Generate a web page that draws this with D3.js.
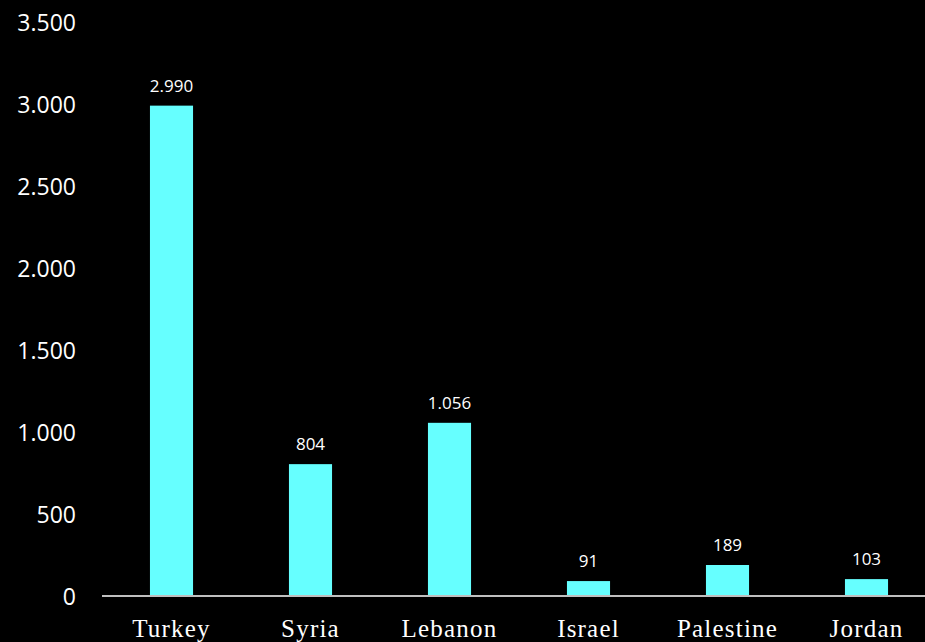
<!DOCTYPE html>
<html>
<head>
<meta charset="utf-8">
<script src="https://cdn.jsdelivr.net/npm/d3@7/dist/d3.min.js"></script>
<style>
  html, body { margin: 0; padding: 0; background: #000; }
  svg { display: block; }
</style>
</head>
<body>
<svg id="chart" width="925" height="642"></svg>
<script>
// Countries and values
const countries = ["Turkey", "Syria", "Lebanon", "Israel", "Palestine", "Jordan"];
const values = [2990, 804, 1056, 91, 189, 103];
const yTicks = [0, 500, 1000, 1500, 2000, 2500, 3000, 3500];

const width = 925, height = 642;
const margin = { left: 102, right: -11, top: 22, bottom: 46 };

const svg = d3.select("#chart");
svg.append("rect").attr("width", width).attr("height", height).attr("fill", "#000");

// European number format: dot as thousands separator
const locale = d3.formatLocale({ decimal: ",", thousands: ".", grouping: [3], currency: ["", "€"] });
const fmt = locale.format(",d");

const x = d3.scaleBand()
  .domain(countries)
  .range([margin.left, width - margin.right])
  .paddingInner(0.69)
  .paddingOuter(0.345);

const y = d3.scaleLinear()
  .domain([0, 3500])
  .range([height - margin.bottom, margin.top]);

// Y axis labels (no axis line)
const yAxis = d3.axisLeft(y).tickValues(yTicks).tickFormat(fmt).tickSize(0).tickPadding(0);
const yg = svg.append("g").attr("transform", "translate(76,0)").call(yAxis);
yg.select(".domain").remove();
yg.selectAll("text")
  .attr("fill", "#fff")
  .attr("font-family", "'Open Sans', 'Noto Sans', sans-serif")
  .attr("font-size", 23)
  .attr("dy", "0.37em");

// Bars
svg.append("g").selectAll("rect")
  .data(countries)
  .join("rect")
  .attr("x", d => x(d))
  .attr("width", x.bandwidth())
  .attr("y", (d, i) => y(values[i]))
  .attr("height", (d, i) => y(0) - y(values[i]))
  .attr("fill", "#66ffff");

// Value labels
svg.append("g").selectAll("text")
  .data(countries)
  .join("text")
  .attr("x", d => x(d) + x.bandwidth() / 2)
  .attr("y", (d, i) => y(values[i]) - 14)
  .attr("text-anchor", "middle")
  .attr("fill", "#fff")
  .attr("font-family", "'Open Sans', 'Noto Sans', sans-serif")
  .attr("font-size", 17)
  .text((d, i) => fmt(values[i]));

// X axis baseline and category labels
const xAxis = d3.axisBottom(x).tickSize(0).tickPadding(0);
const xg = svg.append("g").attr("transform", `translate(0,${y(0)})`).call(xAxis);
xg.select(".domain")
  .attr("stroke", "#bfbfbf")
  .attr("stroke-width", 2)
  .attr("d", `M${margin.left},0H${width}`);
xg.selectAll("text")
  .attr("fill", "#fff")
  .attr("font-family", "'Liberation Serif', 'Times New Roman', serif")
  .attr("font-size", 25)
  .attr("letter-spacing", 1.2)
  .attr("dy", 0)
  .attr("y", 41);
</script>
</body>
</html>
